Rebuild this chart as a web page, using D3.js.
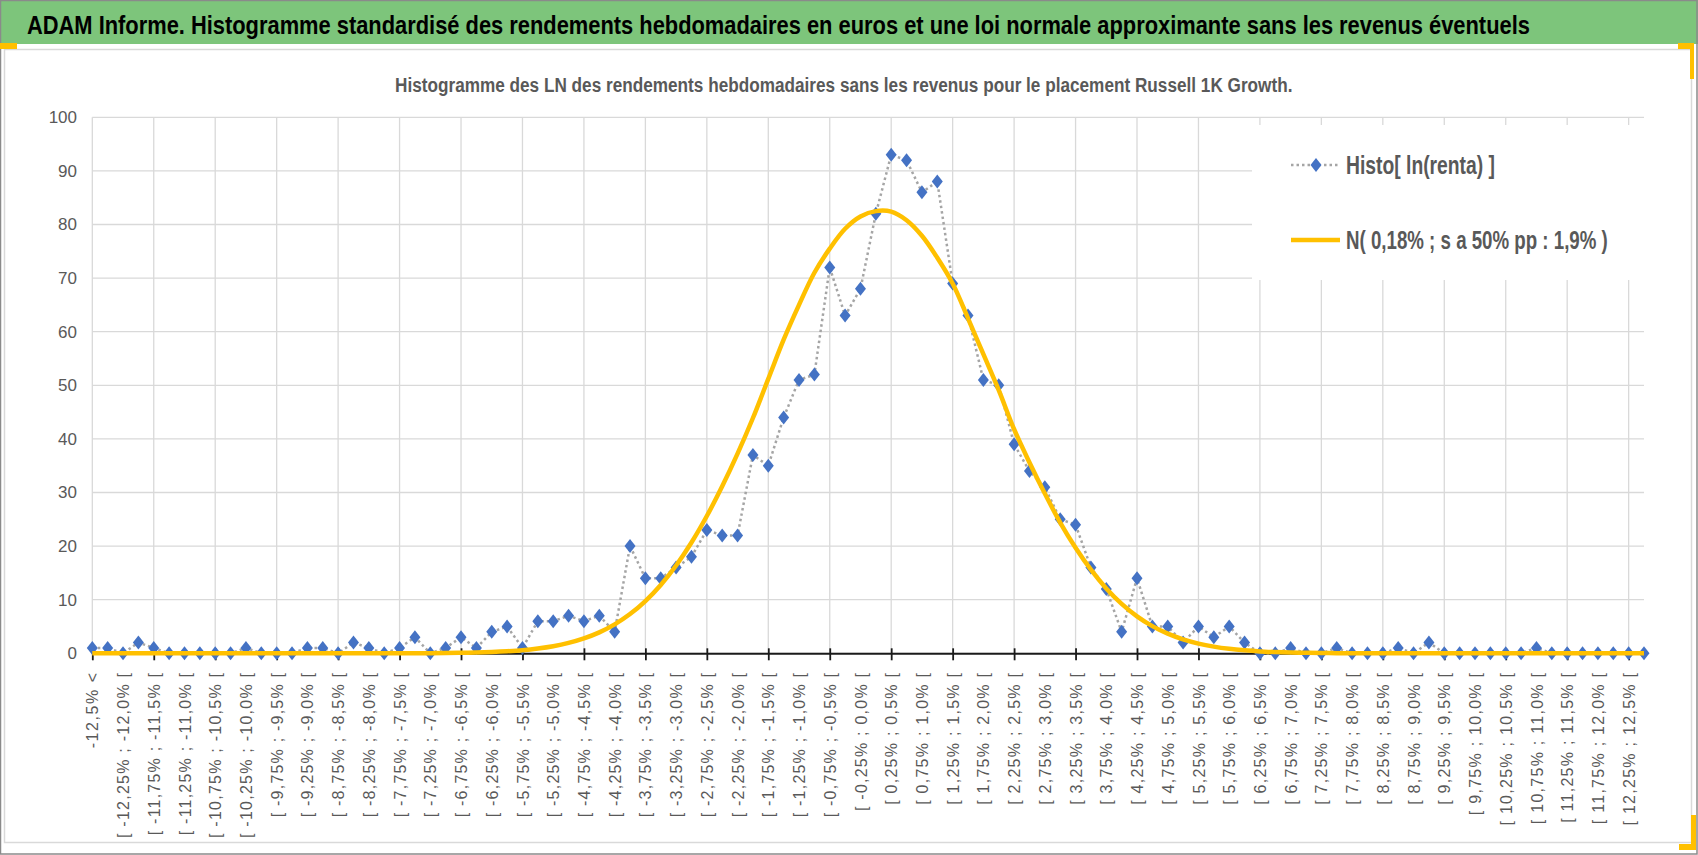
<!DOCTYPE html>
<html>
<head>
<meta charset="utf-8">
<script src="https://cdnjs.cloudflare.com/ajax/libs/d3/7.8.5/d3.min.js"></script>
<style>
  body { margin: 0; background: #fff; }
  svg { display: block; }
  text { font-family: "Liberation Sans", Arial, sans-serif; }
</style>
</head>
<body>
<div id="chart"></div>
<script>
// bin edges (in %), the categories are the intervals between them
const edges = ["-12,5","-12,25","-12,0","-11,75","-11,5","-11,25","-11,0","-10,75","-10,5","-10,25",
  "-10,0","-9,75","-9,5","-9,25","-9,0","-8,75","-8,5","-8,25","-8,0","-7,75",
  "-7,5","-7,25","-7,0","-6,75","-6,5","-6,25","-6,0","-5,75","-5,5","-5,25",
  "-5,0","-4,75","-4,5","-4,25","-4,0","-3,75","-3,5","-3,25","-3,0","-2,75",
  "-2,5","-2,25","-2,0","-1,75","-1,5","-1,25","-1,0","-0,75","-0,5","-0,25",
  "0,0","0,25","0,5","0,75","1,0","1,25","1,5","1,75","2,0","2,25",
  "2,5","2,75","3,0","3,25","3,5","3,75","4,0","4,25","4,5","4,75",
  "5,0","5,25","5,5","5,75","6,0","6,25","6,5","6,75","7,0","7,25",
  "7,5","7,75","8,0","8,25","8,5","8,75","9,0","9,25","9,5","9,75",
  "10,0","10,25","10,5","10,75","11,0","11,25","11,5","11,75","12,0","12,25","12,5"];

const categories = ["-12,5% <"]
  .concat(edges.slice(1).map((e, i) => `[ ${edges[i]}% ; ${e}% [`))
  .concat(["12,5% <"]);

const histo = [1,1,0,2,1,0,0,0,0,0, 1,0,0,0,1,1,0,2,1,0,
  1,3,0,1,3,1,4,5,1,6, 6,7,6,7,4,20,14,14,16,18,
  23,22,22,37,35,44,51,52,72,63, 68,82,93,92,86,88,69,63,51,50,
  39,34,31,25,24,16,12,4,14,5, 5,2,5,3,5,2,0,0,1,0,
  0,1,0,0,0,1,0,2,0,0, 0,0,0,0,1,0,0,0,0,0, 0,0];

const normal = [0,0,0,0,0,0,0,0,0,0, 0,0,0,0,0,0,0,0,0,0,
  0.01,0.02,0.03,0.06,0.1,0.15,0.25,0.39,0.59,0.9,
  1.33,1.94,2.78,3.91,5.4,7.32,9.75,12.75,16.38,20.67,
  25.61,31.17,37.26,43.9,51.2,58.5,65.0,71.0,75.5,79.2,
  81.5,82.5,82.4,80.8,77.9,73.8,69.0,62.5,55.8,49.1,
  41.8,35.6,29.8,24.4,19.7,15.6,12.1,9.22,6.9,5.07,
  3.66,2.59,1.81,1.24,0.83,0.55,0.35,0.23,0.14,0.09,
  0.05,0.03,0,0,0,0,0,0,0,0, 0,0,0,0,0,0,0,0,0,0, 0,0];

const yTicks = [0,10,20,30,40,50,60,70,80,90,100];

const mainTitle = "ADAM Informe. Histogramme standardisé des rendements hebdomadaires en euros et une loi normale approximante sans les revenus éventuels";
const subTitle = "Histogramme des LN des rendements hebdomadaires sans les revenus pour le placement Russell 1K Growth.";
const seriesNames = ["Histo[ ln(renta) ]", "N( 0,18% ; s a 50% pp : 1,9% )"];

const W = 1698, H = 855;
const gray = "#595959";

const svg = d3.select("#chart").append("svg").attr("width", W).attr("height", H);

// squeeze a text horizontally to a given width (the original font is narrow)
function fitText(sel, tx, ty, width) {
  const w = sel.node().getComputedTextLength();
  sel.attr("x", 0).attr("y", 0)
    .attr("transform", `translate(${tx},${ty}) scale(${width / w},1)`);
}

svg.append("rect").attr("x", 0).attr("y", 0).attr("width", W).attr("height", H).attr("fill", "#fff");

// title band
svg.append("rect").attr("x", 0).attr("y", 0).attr("width", W).attr("height", 44).attr("fill", "#7dc57b");
svg.append("text")
  .attr("font-size", 25.5).attr("font-weight", "bold").attr("fill", "#000")
  .text(mainTitle)
  .call(fitText, 27, 33.5, 1503);

// chart area frame
svg.append("rect").attr("x", 4.5).attr("y", 49.5).attr("width", 1687).attr("height", 793)
  .attr("fill", "#fff").attr("stroke", "#d9d9d9").attr("stroke-width", 1.5);
svg.append("rect").attr("x", 0.5).attr("y", 0.5).attr("width", W - 1.5).attr("height", H - 1.5)
  .attr("fill", "none").attr("stroke", "#8a8a8a").attr("stroke-width", 1.5);

// selection handles
const handles = [[0, 43, 17, 6], [1678, 43, 16, 6], [1690, 43, 4, 36], [1679, 844, 17, 6], [1691, 815, 5, 35]];
svg.selectAll("rect.handle").data(handles).enter().append("rect").attr("class", "handle")
  .attr("x", d => d[0]).attr("y", d => d[1]).attr("width", d => d[2]).attr("height", d => d[3])
  .attr("fill", "#ffc000");

svg.append("text")
  .attr("font-size", 20.5).attr("font-weight", "bold").attr("fill", gray)
  .text(subTitle)
  .call(fitText, 395, 92, 898);

const x = d3.scalePoint().domain(categories).range([92.3, 1644]);
const y = d3.scaleLinear().domain([0, 100]).range([653.3, 117.3]);

const gridCats = categories.filter((d, i) => i % 4 === 0);
const labelCats = categories.filter((d, i) => i % 2 === 0 && i < 101);

// gridlines
svg.append("g").selectAll("line").data(yTicks).enter().append("line")
  .attr("x1", x.range()[0]).attr("x2", x.range()[1])
  .attr("y1", d => y(d)).attr("y2", d => y(d))
  .attr("stroke", "#d9d9d9").attr("stroke-width", 1.3);
svg.append("g").selectAll("line").data(gridCats).enter().append("line")
  .attr("x1", d => x(d)).attr("x2", d => x(d))
  .attr("y1", y(100)).attr("y2", y(0))
  .attr("stroke", "#d9d9d9").attr("stroke-width", 1.3);

// y axis labels
const yAxis = svg.append("g").attr("transform", "translate(77,0)")
  .call(d3.axisLeft(y).tickValues(yTicks).tickSize(0).tickPadding(0));
yAxis.select(".domain").remove();
yAxis.selectAll("text").attr("font-size", 17).attr("fill", gray).attr("font-family", null);

// x axis line with ticks
const xAxis = svg.append("g").attr("transform", `translate(0,${y(0)})`)
  .call(d3.axisBottom(x).tickValues(gridCats).tickSize(7).tickSizeOuter(0).tickFormat(""));
xAxis.select(".domain").attr("stroke", "#1a1a1a").attr("stroke-width", 2);
xAxis.selectAll(".tick line").attr("y1", -5).attr("stroke", "#1a1a1a").attr("stroke-width", 1.8);

// category labels, vertical, spaced out like the original
const xLab = svg.append("g").attr("transform", "translate(0,673)")
  .call(d3.axisBottom(x).tickValues(labelCats).tickSize(0));
xLab.select(".domain").remove();
const labTexts = xLab.selectAll("text")
  .attr("transform", "rotate(-90)").attr("text-anchor", "end")
  .attr("x", 0).attr("y", 0).attr("dy", "0.35em")
  .attr("font-size", 16).attr("fill", gray).attr("font-family", null);
const lens = labTexts.nodes().map(n => n.getComputedTextLength());
// "[ -12,25% ; -12,0% [" is 165px long in the original
labTexts.attr("textLength", (d, i) => 165 * lens[i] / lens[1]).attr("lengthAdjust", "spacing");

// histogram series
const line = d3.line().x((d, i) => x(categories[i])).y(d => y(d));
svg.append("path").datum(histo).attr("d", line)
  .attr("fill", "none").attr("stroke", "#a5a5a5").attr("stroke-width", 2.5)
  .attr("stroke-dasharray", "2.5,3");
const diamond = "M0,-7L5.5,0L0,7L-5.5,0Z";
svg.append("g").selectAll("path").data(histo).enter().append("path")
  .attr("d", diamond)
  .attr("transform", (d, i) => `translate(${x(categories[i])},${y(d)})`)
  .attr("fill", "#4472c4");

// normal curve
const smooth = d3.line().curve(d3.curveCatmullRom.alpha(0.5))
  .x((d, i) => x(categories[i])).y(d => y(d));
svg.append("path").datum(normal).attr("d", smooth)
  .attr("fill", "none").attr("stroke", "#ffc000").attr("stroke-width", 4.5)
  .attr("stroke-linejoin", "round");

// legend
const lg = svg.append("g");
const legY = [165, 240];
lg.append("rect").attr("x", 1252).attr("y", 125).attr("width", 392).attr("height", 155).attr("fill", "#fff");
lg.append("line").attr("x1", 1291).attr("x2", 1339).attr("y1", legY[0]).attr("y2", legY[0])
  .attr("stroke", "#a5a5a5").attr("stroke-width", 2.5).attr("stroke-dasharray", "2.5,3");
lg.append("path").attr("d", diamond).attr("transform", `translate(1316,${legY[0]})`).attr("fill", "#4472c4");
lg.append("line").attr("x1", 1291).attr("x2", 1340).attr("y1", legY[1]).attr("y2", legY[1])
  .attr("stroke", "#ffc000").attr("stroke-width", 4.5);
lg.selectAll("text").data(seriesNames).enter().append("text")
  .attr("dy", "0.36em")
  .attr("font-size", 25).attr("font-weight", "bold").attr("fill", gray)
  .text(d => d)
  .each(function (d, i) { d3.select(this).call(fitText, 1346, legY[i], [149, 262][i]); });
</script>
</body>
</html>
